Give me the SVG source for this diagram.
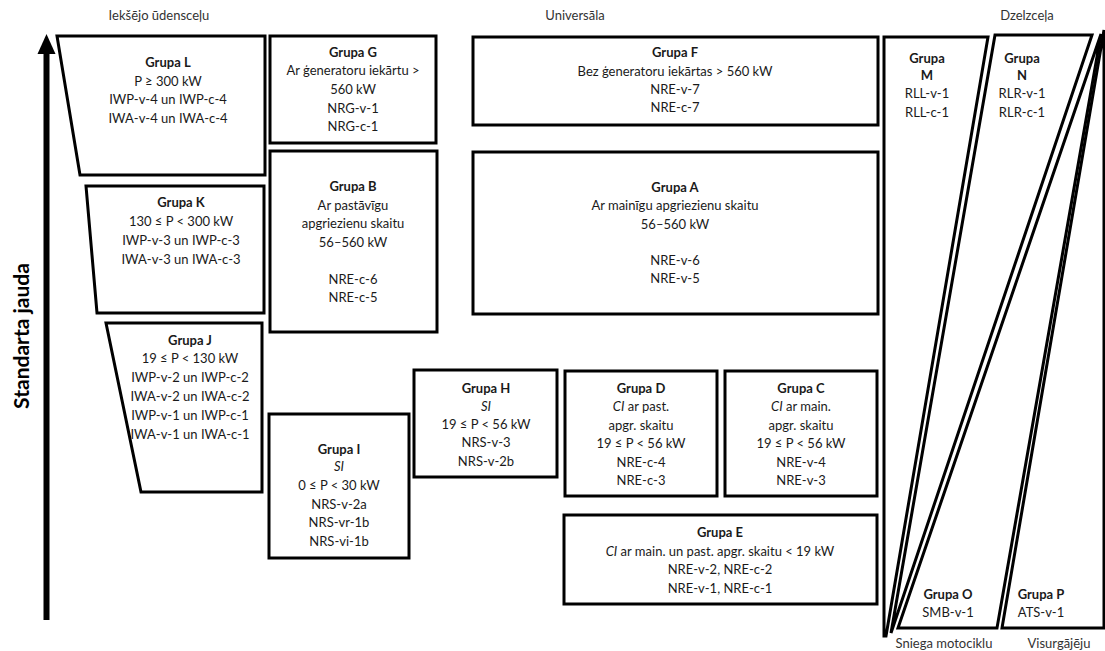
<svg xmlns="http://www.w3.org/2000/svg" width="1105" height="651" viewBox="0 0 1105 651">
<style>
.box{fill:#fff;stroke:#000;stroke-width:3;stroke-linejoin:miter}
text{font-family:Lato,"Open Sans","Liberation Sans",sans-serif;font-size:13px;fill:#1a1a1a;text-anchor:middle}
.b{font-weight:bold}
.i{font-style:italic}
.lbl{font-size:13px;fill:#333}
</style>
<rect width="1105" height="651" fill="#fff"/>
<g id="axis">
<line x1="46.5" y1="620" x2="46.5" y2="50" stroke="#000" stroke-width="6"/>
<polygon points="46.5,34 55.5,54 37.5,54" fill="#000"/>
<text class="b" transform="translate(29,336) rotate(-90)" style="font-size:21px;fill:#000">Standarta jauda</text>
</g>
<g id="headers">
<text class="lbl" x="159" y="20">Iekšējo ūdensceļu</text>
<text class="lbl" x="575" y="20">Universāla</text>
<text class="lbl" x="1027" y="20">Dzelzceļa</text>
<text class="lbl" x="944" y="648">Sniega motociklu</text>
<text class="lbl" x="1059" y="648">Visurgājēju</text>
</g>
<g id="grupaL">
<polygon class="box" points="57,36 265,36 265,175 80,175"/>
<text class="b" x="168" y="67">Grupa L</text>
<text x="168" y="86">P ≥ 300 kW</text>
<text x="168" y="104">IWP-v-4 un IWP-c-4</text>
<text x="168" y="123">IWA-v-4 un IWA-c-4</text>
</g>
<g id="grupaK">
<polygon class="box" points="86,186 264,186 264,313 97,313"/>
<text class="b" x="181" y="207">Grupa K</text>
<text x="181" y="226">130 ≤ P &lt; 300 kW</text>
<text x="181" y="245">IWP-v-3 un IWP-c-3</text>
<text x="181" y="264">IWA-v-3 un IWA-c-3</text>
</g>
<g id="grupaJ">
<polygon class="box" points="106,323 262,323 262,492 141,492"/>
<text class="b" x="190" y="345">Grupa J</text>
<text x="190" y="363">19 ≤ P &lt; 130 kW</text>
<text x="190" y="382">IWP-v-2 un IWP-c-2</text>
<text x="190" y="401">IWA-v-2 un IWA-c-2</text>
<text x="190" y="420">IWP-v-1 un IWP-c-1</text>
<text x="190" y="439">IWA-v-1 un IWA-c-1</text>
</g>
<g id="grupaG">
<rect class="box" x="270" y="36" width="166" height="107"/>
<text class="b" x="353" y="57">Grupa G</text>
<text x="353" y="75">Ar ģeneratoru iekārtu &gt;</text>
<text x="353" y="94">560 kW</text>
<text x="353" y="113">NRG-v-1</text>
<text x="353" y="131">NRG-c-1</text>
</g>
<g id="grupaF">
<rect class="box" x="473" y="37" width="405" height="88"/>
<text class="b" x="675" y="57">Grupa F</text>
<text x="675" y="76">Bez ģeneratoru iekārtas &gt; 560 kW</text>
<text x="675" y="94">NRE-v-7</text>
<text x="675" y="112">NRE-c-7</text>
</g>
<g id="grupaB">
<rect class="box" x="270" y="151" width="167" height="181"/>
<text class="b" x="353" y="191">Grupa B</text>
<text x="353" y="210">Ar pastāvīgu</text>
<text x="353" y="228">apgriezienu skaitu</text>
<text x="353" y="247">56–560 kW</text>
<text x="353" y="284">NRE-c-6</text>
<text x="353" y="302">NRE-c-5</text>
</g>
<g id="grupaA">
<rect class="box" x="473" y="152" width="405" height="162"/>
<text class="b" x="675" y="192">Grupa A</text>
<text x="675" y="210">Ar mainīgu apgriezienu skaitu</text>
<text x="675" y="229">56–560 kW</text>
<text x="675" y="265">NRE-v-6</text>
<text x="675" y="283">NRE-v-5</text>
</g>
<g id="grupaH">
<rect class="box" x="414" y="370" width="143" height="107"/>
<text class="b" x="486" y="393">Grupa H</text>
<text class="i" x="486" y="411">SI</text>
<text x="486" y="429">19 ≤ P &lt; 56 kW</text>
<text x="486" y="447">NRS-v-3</text>
<text x="486" y="466">NRS-v-2b</text>
</g>
<g id="grupaI">
<rect class="box" x="269" y="414" width="140" height="144"/>
<text class="b" x="339" y="454">Grupa I</text>
<text class="i" x="339" y="471">SI</text>
<text x="339" y="490">0 ≤ P &lt; 30 kW</text>
<text x="339" y="509">NRS-v-2a</text>
<text x="339" y="527">NRS-vr-1b</text>
<text x="339" y="546">NRS-vi-1b</text>
</g>
<g id="grupaD">
<rect class="box" x="565" y="371" width="152" height="125"/>
<text class="b" x="641" y="393">Grupa D</text>
<text x="641" y="411"><tspan class="i">CI</tspan> ar past.</text>
<text x="641" y="430">apgr. skaitu</text>
<text x="641" y="448">19 ≤ P &lt; 56 kW</text>
<text x="641" y="467">NRE-c-4</text>
<text x="641" y="485">NRE-c-3</text>
</g>
<g id="grupaC">
<rect class="box" x="725" y="371" width="152" height="125"/>
<text class="b" x="801" y="393">Grupa C</text>
<text x="801" y="411"><tspan class="i">CI</tspan> ar main.</text>
<text x="801" y="430">apgr. skaitu</text>
<text x="801" y="448">19 ≤ P &lt; 56 kW</text>
<text x="801" y="467">NRE-v-4</text>
<text x="801" y="485">NRE-v-3</text>
</g>
<g id="grupaE">
<rect class="box" x="564" y="515" width="313" height="89"/>
<text class="b" x="720" y="537">Grupa E</text>
<text x="720" y="556"><tspan class="i">CI</tspan> ar main. un past. apgr. skaitu &lt; 19 kW</text>
<text x="720" y="574">NRE-v-2, NRE-c-2</text>
<text x="720" y="593">NRE-v-1, NRE-c-1</text>
</g>
<g id="grupaM">
<polygon class="box" points="884,37 988,37 886,636 884,636"/>
<text class="b" x="927" y="63">Grupa</text>
<text class="b" x="927" y="80">M</text>
<text x="927" y="98">RLL-v-1</text>
<text x="927" y="117">RLL-c-1</text>
</g>
<g id="grupaN">
<polygon class="box" points="995,35 1092,35 891,633"/>
<text class="b" x="1022" y="63">Grupa</text>
<text class="b" x="1022" y="80">N</text>
<text x="1022" y="98">RLR-v-1</text>
<text x="1022" y="117">RLR-c-1</text>
</g>
<g id="grupaO">
<polygon class="box" points="1101,34 997,628 898,628"/>
<text class="b" x="948" y="599">Grupa O</text>
<text x="948" y="617">SMB-v-1</text>
</g>
<g id="grupaP">
<polygon class="box" points="1104,30 1104,628 1002,628"/>
<text class="b" x="1041" y="599">Grupa P</text>
<text x="1041" y="617">ATS-v-1</text>
</g>
<g id="connectors"></g>
</svg>
